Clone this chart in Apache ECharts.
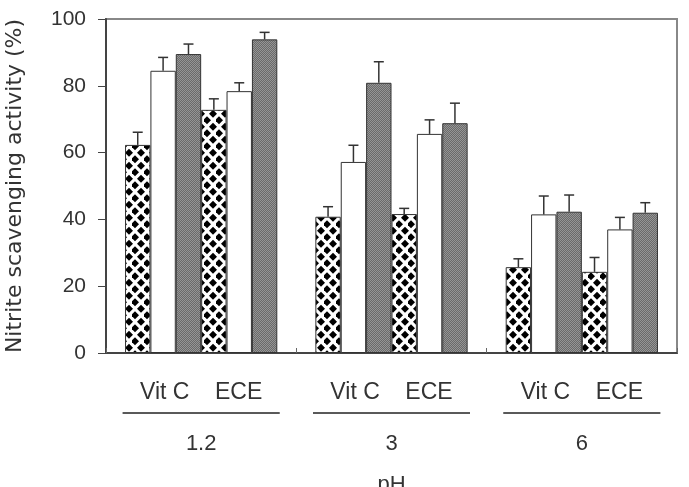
<!DOCTYPE html>
<html>
<head>
<meta charset="utf-8">
<script src="https://cdn.jsdelivr.net/npm/echarts@6/dist/echarts.min.js"></script>
<style>
html, body { margin: 0; padding: 0; background: #fff; }
#chart { width: 689px; height: 487px; }
</style>
</head>
<body>
<div id="chart"></div>
<script>
// pH groups
var categories = ['1.2', '3', '6'];
var groupNames = ['Vit C', 'ECE'];

// Vit C bars (checkered, white, gray)
var vitcA = [62.3, 40.8, 25.7];
var vitcB = [84.5, 57.2, 41.5];
var vitcC = [89.5, 80.9, 42.3];
// ECE bars
var eceA = [72.8, 41.6, 24.3];
var eceB = [78.4, 65.6, 37.0];
var eceC = [93.9, 68.8, 42.0];

// error (upper only)
var vitcAErr = [3.8, 3.0, 2.5];
var vitcBErr = [4.0, 5.0, 5.5];
var vitcCErr = [3.0, 6.3, 5.0];
var eceAErr = [3.3, 1.7, 4.3];
var eceBErr = [2.5, 4.2, 3.6];
var eceCErr = [2.1, 6.0, 3.0];

var yTicks = [0, 20, 40, 60, 80, 100];

//填充图案
function diamondPattern() {
	var c = document.createElement('canvas');
	c.width = 12; c.height = 13;
	var ctx = c.getContext('2d');
	ctx.fillStyle = '#fff';
	ctx.fillRect(0, 0, 12, 13);
	ctx.fillStyle = '#000';
	var r = 4;
	var pts = [[3, 3.25], [9, 9.75], [9, -3.25], [-3, 9.75], [15, 9.75], [3, 16.25], [-3, -3.25], [15, -3.25]];
	pts.forEach(function(p) {
		ctx.beginPath();
		ctx.moveTo(p[0], p[1] - r);
		ctx.lineTo(p[0] + r, p[1]);
		ctx.lineTo(p[0], p[1] + r);
		ctx.lineTo(p[0] - r, p[1]);
		ctx.closePath();
		ctx.fill();
	});
	return c;
}
function grayPattern() {
	var c = document.createElement('canvas');
	c.width = 2; c.height = 2;
	var ctx = c.getContext('2d');
	ctx.fillStyle = '#6a6a6a';
	ctx.fillRect(0, 0, 2, 2);
	ctx.fillStyle = '#959595';
	ctx.fillRect(0, 0, 1, 1);
	ctx.fillRect(1, 1, 1, 1);
	return c;
}

var fills = [
	{ image: diamondPattern(), repeat: 'repeat' },
	'#ffffff',
	{ image: grayPattern(), repeat: 'repeat' }
];

var seriesVals = [vitcA, vitcB, vitcC, eceA, eceB, eceC];
var seriesErrs = [vitcAErr, vitcBErr, vitcCErr, eceAErr, eceBErr, eceCErr];
var seriesNames = ['Vit C 1', 'Vit C 2', 'Vit C 3', 'ECE 1', 'ECE 2', 'ECE 3'];
var nBars = seriesVals.length;

var series = seriesVals.map(function(vals, s) {
	return {
		name: seriesNames[s],
		type: 'bar',
		data: vals,
		barGap: '0%',
		barCategoryGap: '20%',
		itemStyle: { color: fills[s % 3], borderColor: '#333', borderWidth: 1 },
		silent: true
	};
});

var errData = [];
seriesVals.forEach(function(vals, s) {
	vals.forEach(function(v, i) {
		errData.push([i, s, v, seriesErrs[s][i]]);
	});
});

// 误差线
series.push({
	type: 'custom',
	z: 5,
	data: errData,
	encode: { x: 0, y: 2 },
	renderItem: function(params, api) {
		var cat = api.value(0), s = api.value(1), v = api.value(2), e = api.value(3);
		var cw = api.size([1, 0])[0];
		var bw = cw * 0.8 / nBars;
		var p0 = api.coord([cat, v]);
		var p1 = api.coord([cat, v + e]);
		var x = p0[0] - cw * 0.4 + (s + 0.5) * bw;
		var st = { stroke: '#333', lineWidth: 1.5 };
		return {
			type: 'group',
			children: [
				{ type: 'line', shape: { x1: x, y1: p0[1], x2: x, y2: p1[1] }, style: st },
				{ type: 'line', shape: { x1: x - 5, y1: p1[1], x2: x + 5, y2: p1[1] }, style: st }
			]
		};
	}
});

var myChart = echarts.init(document.getElementById('chart'));
myChart.setOption({
	backgroundColor: '#fff',
	animation: false,
	textStyle: { fontFamily: 'Liberation Sans, Arial, sans-serif' },
	grid: {
		left: 106, right: 12, top: 19, bottom: 134,
		outerBoundsMode: 'none', containLabel: false,
		show: true, borderColor: '#888', borderWidth: 2
	},
	xAxis: {
		type: 'category', data: categories,
		name: 'pH', nameLocation: 'middle', nameGap: 121,
		nameTextStyle: { fontSize: 22, color: '#333' },
		axisLine: { lineStyle: { color: '#444', width: 2 } },
		axisTick: { show: true, inside: true, length: 5, lineStyle: { color: '#666' } },
		axisLabel: {
			margin: 27,
			formatter: function(v) {
				return '{g|' + groupNames[0] + '    ' + groupNames[1] + '}\n{hr|}\n{p|' + v + '}';
			},
			rich: {
				g: { fontSize: 23, color: '#333', lineHeight: 26 },
				hr: { width: 157, height: 0, lineHeight: 14, borderColor: '#222', borderWidth: 1 },
				p: { fontSize: 22, color: '#333', lineHeight: 48 }
			}
		}
	},
	yAxis: {
		type: 'value', min: yTicks[0], max: yTicks[yTicks.length - 1], interval: 20,
		name: 'Nitrite scavenging activity (%)', nameLocation: 'middle', nameGap: 80,
		nameTextStyle: { fontSize: 22, color: '#333', fontFamily: 'DejaVu Sans' },
		axisLine: { show: true, lineStyle: { color: '#444', width: 2 } },
		axisTick: { show: true, length: 8, lineStyle: { color: '#444' } },
		axisLabel: { fontSize: 21, color: '#333', margin: 20 },
		splitLine: { show: false }
	},
	series: series
});
</script>
</body>
</html>
